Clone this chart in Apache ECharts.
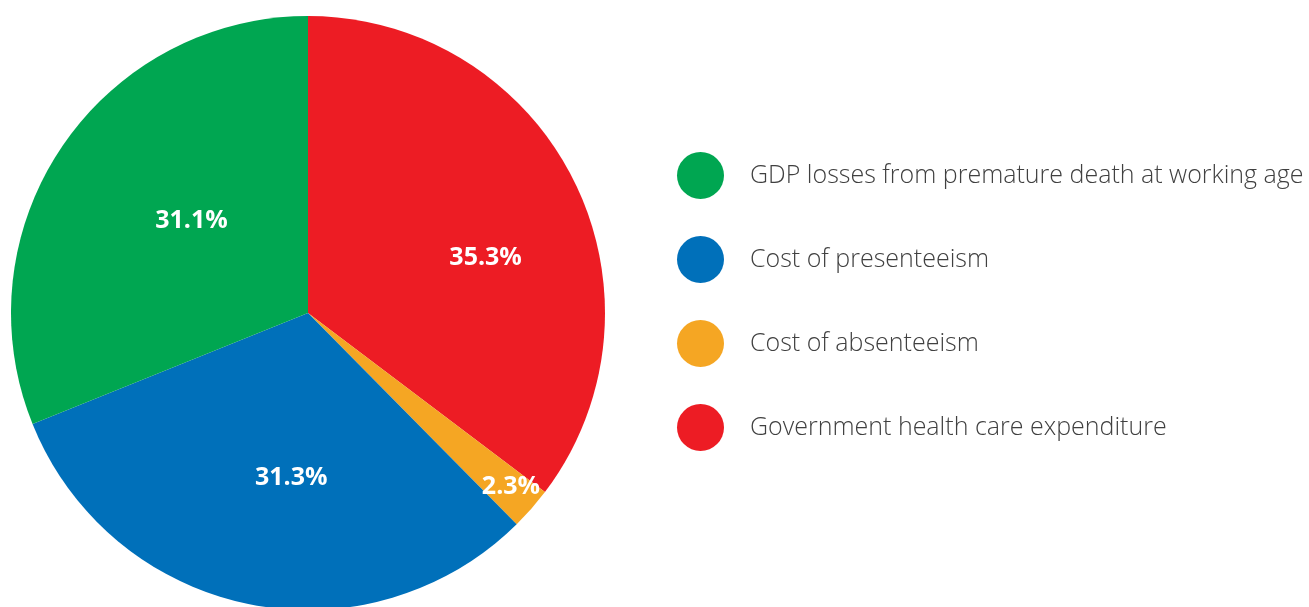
<!DOCTYPE html>
<html>
<head>
<meta charset="utf-8">
<script src="https://cdn.jsdelivr.net/npm/echarts@6/dist/echarts.min.js"></script>
<style>
html,body{margin:0;padding:0;background:#fff;}
#chart{width:1309px;height:607px;}
</style>
</head>
<body>
<div id="chart"></div>
<script>
// Data (pie order: clockwise from 12 o'clock)
const categories = [
  'Government health care expenditure',
  'Cost of absenteeism',
  'Cost of presenteeism',
  'GDP losses from premature death at working age'
];
const values = [35.3, 2.3, 31.3, 31.1];
const colors = ['#ED1C24', '#F5A623', '#0070BA', '#00A651'];
const legendOrder = [
  'GDP losses from premature death at working age',
  'Cost of presenteeism',
  'Cost of absenteeism',
  'Government health care expenditure'
];

// label nudges (px) relative to the default inside position
const labelShift = [[42, 12], [89, 74], [14, 17], [9, -7]];

const chart = echarts.init(document.getElementById('chart'), null, {renderer: 'canvas'});
chart.setOption({
  animation: false,
  backgroundColor: '#ffffff',
  legend: {
    orient: 'vertical',
    left: 672,
    top: 147,
    icon: 'circle',
    itemWidth: 47,
    itemHeight: 47,
    itemGap: 37,
    data: legendOrder,
    selectedMode: false,
    textStyle: {
      fontFamily: '"Open Sans", sans-serif',
      fontWeight: 300,
      fontSize: 25,
      color: '#404040',
      padding: [0, 0, 0, 21]
    }
  },
  series: [{
    type: 'pie',
    center: [308, 313],
    radius: 297,
    startAngle: 90,
    clockwise: true,
    avoidLabelOverlap: false,
    silent: true,
    itemStyle: { borderWidth: 0 },
    label: {
      show: true,
      position: 'inside',
      formatter: p => p.value.toFixed(1) + '%',
      color: '#ffffff',
      fontFamily: '"Open Sans", sans-serif',
      fontWeight: 'bold',
      fontSize: 25
    },
    labelLine: { show: false },
    labelLayout: function (params) {
      const s = labelShift[params.dataIndex];
      return { dx: s[0], dy: s[1] };
    },
    data: categories.map((c, i) => ({
      name: c,
      value: values[i],
      itemStyle: { color: colors[i] }
    }))
  }]
});
</script>
</body>
</html>
